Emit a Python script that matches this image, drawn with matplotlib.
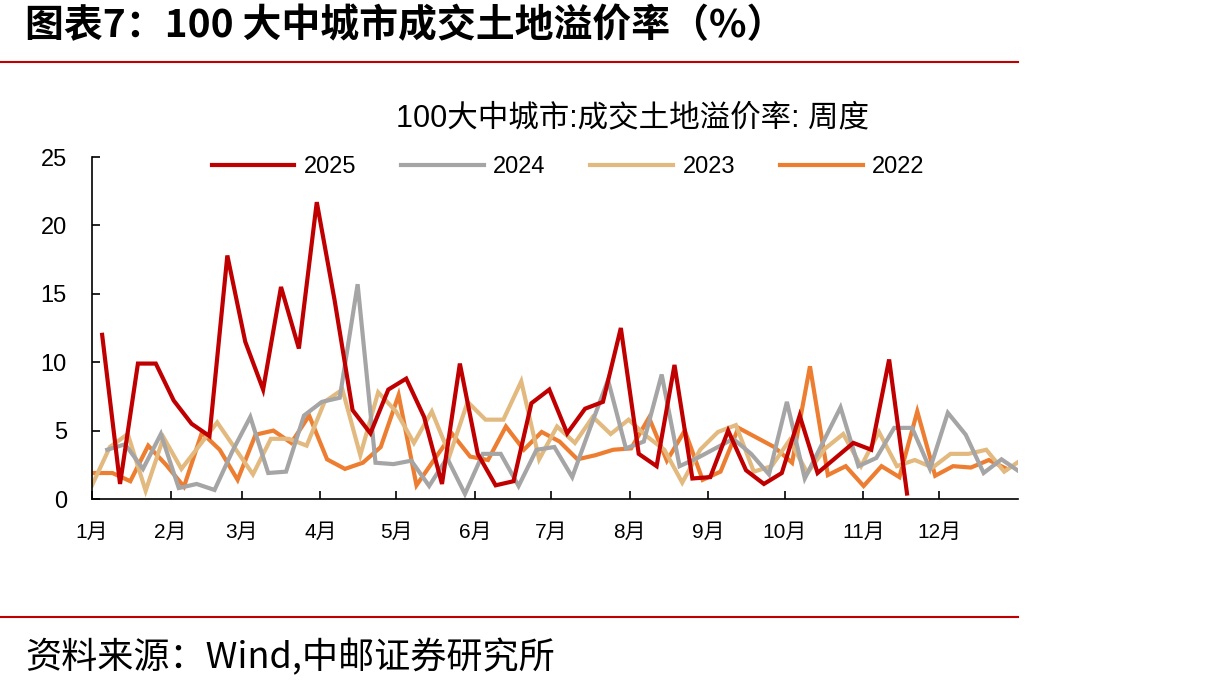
import numpy as np
import matplotlib.pyplot as plt
from matplotlib.lines import Line2D

plt.rcParams['font.family'] = ['Liberation Sans', 'Noto Sans CJK SC', 'DejaVu Sans']

# Month ticks (day of year)
month_days = [0, 31, 59, 90, 120, 151, 181, 212, 243, 273, 304, 334]
month_labels = ['1月', '2月', '3月', '4月', '5月', '6月',
                '7月', '8月', '9月', '10月', '11月', '12月']

# Weekly land premium rate (%)
y2025 = [12.0, 1.1, 9.9, 9.9, 7.2, 5.5, 4.6, 17.8, 11.5, 8.0, 15.5, 11.0,
         21.7, 14.5, 6.5, 4.8, 8.0, 8.8, 6.0, 1.1, 9.9, 3.3, 1.0, 1.3,
         7.0, 8.0, 4.8, 6.6, 7.1, 12.5, 3.3, 2.4, 9.8, 1.5, 1.6, 5.0,
         2.1, 1.1, 1.9, 6.1, 1.9, 3.0, 4.1, 3.6, 10.2, 0.4]
y2024 = [3.6, 4.0, 2.2, 4.75, 0.8, 1.1, 0.66, 3.5, 6.0, 1.9, 2.0, 6.1,
         7.1, 7.4, 15.7, 2.65, 2.55, 2.8, 0.95, 3.0, 0.37, 3.3, 3.3, 0.95,
         3.6, 3.8, 1.6, 5.2, 8.7, 3.7, 4.2, 9.1, 2.4, 3.0, 3.7, 4.4,
         3.3, 1.8, 7.1, 1.5, 4.1, 6.7, 2.4, 3.0, 5.2, 5.2, 2.2, 6.3,
         4.7, 1.9, 2.9, 2.0]
y2023 = [1.0, 3.8, 4.75, 0.6, 4.5, 2.2, 3.9, 5.6, 3.7, 1.8, 4.4, 4.4,
         3.9, 7.1, 8.0, 3.2, 7.8, 6.4, 4.1, 6.4, 3.2, 7.1, 5.8, 5.8,
         8.6, 2.9, 5.3, 4.1, 6.0, 4.75, 5.8, 4.6, 3.6, 1.2, 3.6, 4.9,
         5.4, 2.0, 2.4, 4.3, 1.9, 3.7, 4.75, 2.4, 4.9, 2.4, 2.85, 2.3,
         3.3, 3.3, 3.6, 2.0, 2.9]
y2022 = [1.9, 1.9, 1.3, 3.9, 2.5, 0.9, 4.85, 3.6, 1.4, 4.7, 5.0, 4.1,
         6.1, 2.9, 2.2, 2.65, 3.8, 7.6, 1.0, 2.9, 4.75, 3.1, 2.85, 5.3,
         3.6, 4.9, 4.2, 2.9, 3.2, 3.6, 3.7, 5.95, 2.8, 5.0, 1.4, 2.0,
         5.2, 4.5, 3.8, 2.65, 9.7, 1.75, 2.4, 0.95, 2.4, 1.6, 6.4, 1.7,
         2.4, 2.3, 2.85, 2.2]

# first Sunday of each year as day-of-year
start_day = {'2025': 4, '2024': 6, '2023': 0, '2022': 1}
colors = {'2025': '#C00000', '2024': '#A5A5A5', '2023': '#E2B97F', '2022': '#ED7D31'}
series = {'2025': y2025, '2024': y2024, '2023': y2023, '2022': y2022}

fig = plt.figure(figsize=(12.18, 6.91), dpi=100)
ax = fig.add_axes([92 / 1218, 1 - 499 / 691, 926 / 1218, 342 / 691])

for name in ['2022', '2023', '2024', '2025']:
    vals = series[name]
    x = start_day[name] + 7.05 * np.arange(len(vals))
    ax.plot(x, vals, color=colors[name], linewidth=3, solid_joinstyle='miter')

ax.set_xlim(0, 365)
ax.set_ylim(0, 25)
ax.set_yticks([0, 5, 10, 15, 20, 25])
ax.set_xticks(month_days)
ax.set_xticklabels(month_labels)
ax.spines['top'].set_visible(False)
ax.spines['right'].set_visible(False)
ax.spines['left'].set_linewidth(1.2)
ax.spines['bottom'].set_linewidth(1.2)
ax.tick_params(axis='y', direction='in', length=6, width=1.2, labelsize=17, pad=18)
ax.tick_params(axis='x', direction='in', length=6, width=1.2, labelsize=15, pad=17)

# legend
handles = [Line2D([], [], color=colors[n], linewidth=3) for n in ['2025', '2024', '2023', '2022']]
fig.legend(handles, ['2025', '2024', '2023', '2022'], loc='center', ncol=4,
           bbox_to_anchor=(568 / 1218, 1 - 167 / 691), frameon=False,
           fontsize=17, handlelength=3.5, handletextpad=0.4, columnspacing=1.9)

# chart title
fig.text(632 / 1218, 1 - 118 / 691, '100大中城市:成交土地溢价率: 周度',
         ha='center', va='center', fontsize=22,
         family=['Liberation Sans', 'Noto Sans CJK SC'])

# header and footer
fig.text(25 / 1218, 1 - 26 / 691, '图表7：100 大中城市成交土地溢价率（%）',
         ha='left', va='center', fontsize=28, fontweight='bold',
         family=['Noto Sans CJK SC', 'DejaVu Sans'])
fig.add_artist(Line2D([0, 1018 / 1218], [1 - 62 / 691, 1 - 62 / 691],
                      color='#C00000', linewidth=1.5))
fig.add_artist(Line2D([0, 1018 / 1218], [1 - 617 / 691, 1 - 617 / 691],
                      color='#C00000', linewidth=1.5))
fig.text(25 / 1218, 1 - 658 / 691, '资料来源：Wind,中邮证券研究所',
         ha='left', va='center', fontsize=26,
         family=['Noto Sans CJK SC', 'DejaVu Sans'])

fig.savefig('out.png', dpi=100)
